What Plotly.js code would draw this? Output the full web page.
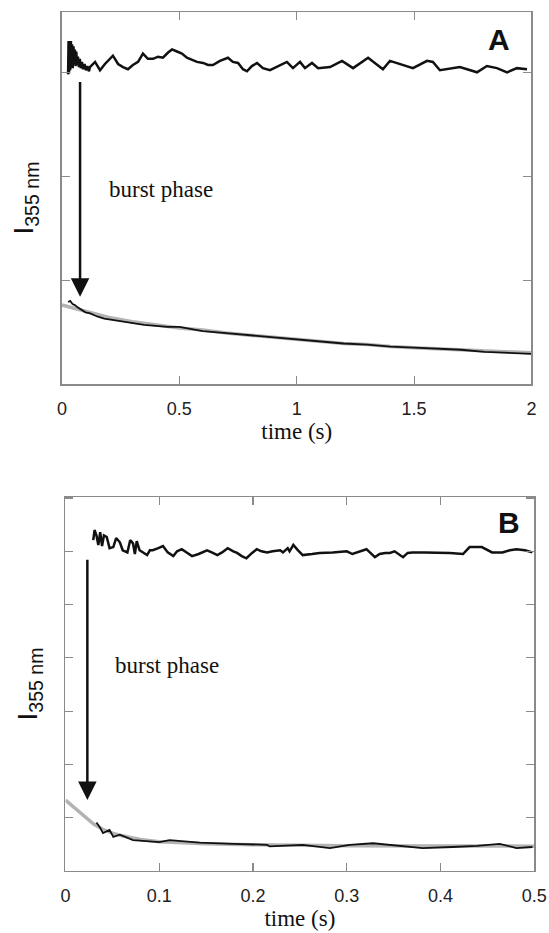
<!DOCTYPE html>
<html>
<head>
<meta charset="utf-8">
<script src="https://cdn.plot.ly/plotly-3.0.1.min.js"></script>
<style>html,body{margin:0;padding:0;background:#fff;}#chart{width:549px;height:933px;}</style>
</head>
<body>
<div id="chart"></div>
<script>
// ---- Panel A (0–2 s) ----
const aTopT = [0.026,0.028,0.030,0.033,0.035,0.038,0.040,0.043,0.046,0.049,0.052,0.055,0.058,0.061,0.064,0.068,0.072,0.076,0.080,0.085,0.090,0.096,0.102,0.108,0.115,
  0.119,0.141,0.162,0.183,0.217,0.239,0.260,0.281,0.302,0.324,0.345,0.366,0.388,0.409,0.430,0.452,0.469,0.490,0.511,0.532,0.554,0.575,0.601,0.622,0.643,0.673,0.707,0.728,0.750,0.771,0.788,0.809,0.831,0.856,0.886,0.920,0.958,0.984,1.014,1.035,1.065,1.091,1.142,1.193,1.240,1.304,1.367,1.397,1.453,1.495,1.555,1.580,1.610,1.695,1.768,1.810,1.853,1.896,1.938,1.981];
const aTopY = [2.98,3.30,2.99,3.28,3.02,3.30,3.05,3.27,3.04,3.25,3.08,3.22,3.06,3.20,3.07,3.15,3.05,3.13,3.04,3.10,3.03,3.08,3.02,3.06,3.01,
  3.05,3.10,3.02,3.08,3.16,3.08,3.05,3.03,3.07,3.10,3.18,3.13,3.13,3.15,3.14,3.19,3.22,3.20,3.18,3.14,3.12,3.10,3.09,3.07,3.07,3.11,3.14,3.10,3.09,3.03,3.01,3.06,3.09,3.04,3.02,3.06,3.10,3.04,3.10,3.04,3.09,3.04,3.05,3.11,3.04,3.14,3.03,3.11,3.07,3.04,3.11,3.10,3.02,3.05,3.00,3.06,3.04,3.00,3.04,3.03];
const aDataT = [0.026,0.035,0.045,0.055,0.065,0.08,0.1,0.12,0.15,0.18,0.21,0.25,0.3,0.35,0.4,0.45,0.5,0.55,0.6,0.7,0.8,0.9,1.0,1.1,1.2,1.3,1.4,1.5,1.6,1.7,1.8,1.9,2.0];
const aDataY = [0.79,0.80,0.77,0.76,0.74,0.72,0.69,0.68,0.65,0.63,0.62,0.60,0.59,0.57,0.56,0.55,0.55,0.53,0.51,0.49,0.47,0.45,0.43,0.41,0.39,0.38,0.36,0.35,0.34,0.33,0.31,0.30,0.29];
const aFitT = [0,0.1,0.2,0.3,0.4,0.5,0.6,0.7,0.8,0.9,1.0,1.1,1.2,1.3,1.4,1.5,1.6,1.7,1.8,1.9,2.0];
const aFitY = [0.76,0.70,0.64,0.60,0.57,0.54,0.52,0.49,0.47,0.45,0.43,0.41,0.39,0.38,0.36,0.35,0.34,0.33,0.32,0.31,0.30];

// ---- Panel B (0–0.5 s) ----
const bTopT = [0.0296,0.031,0.033,0.035,0.037,0.039,0.041,0.044,0.047,0.051,0.054,0.058,0.061,0.066,0.069,0.072,0.074,0.076,0.079,0.084,0.087,0.090,0.093,0.099,0.104,0.109,0.115,0.119,0.124,0.130,0.135,0.142,0.151,0.156,0.162,0.167,0.173,0.179,0.183,0.188,0.193,0.199,0.204,0.209,0.215,0.221,0.229,0.232,0.237,0.239,0.243,0.248,0.253,0.263,0.271,0.285,0.300,0.306,0.314,0.321,0.330,0.335,0.341,0.346,0.351,0.360,0.365,0.370,0.383,0.396,0.410,0.424,0.431,0.444,0.455,0.466,0.474,0.481,0.490,0.498];
const bTopY = [6.21,6.40,6.30,6.12,6.36,6.10,6.30,6.27,6.06,6.08,6.25,6.17,6.02,5.98,6.21,6.15,5.95,6.19,6.02,5.97,5.93,6.02,6.02,6.06,6.10,5.98,5.91,6.00,6.04,5.97,5.91,5.95,6.02,5.98,5.93,5.98,6.06,6.00,5.97,5.91,5.87,5.97,6.04,6.00,5.98,6.00,6.02,5.98,6.06,6.00,6.12,6.02,5.93,5.95,5.97,5.98,6.00,5.95,6.00,6.04,5.89,5.95,5.97,5.97,6.00,5.89,5.97,5.98,5.98,5.98,5.97,5.95,6.08,6.08,5.98,5.98,6.02,6.04,6.02,5.98];
const bDataT = [0.033,0.037,0.040,0.047,0.051,0.058,0.072,0.090,0.100,0.111,0.126,0.143,0.179,0.215,0.218,0.253,0.282,0.303,0.328,0.360,0.381,0.413,0.439,0.463,0.481,0.498];
const bDataY = [0.91,0.81,0.71,0.77,0.64,0.68,0.58,0.56,0.54,0.58,0.56,0.53,0.51,0.49,0.46,0.49,0.43,0.49,0.52,0.47,0.43,0.45,0.47,0.51,0.43,0.45];
const bFitT = [0,0.01,0.02,0.03,0.04,0.05,0.06,0.07,0.08,0.1,0.12,0.15,0.2,0.25,0.3,0.4,0.5];
const bFitY = [1.33,1.18,1.02,0.88,0.78,0.71,0.66,0.62,0.59,0.55,0.53,0.51,0.49,0.48,0.475,0.47,0.465];

const panelLabels = ['A','B'];
const burstText = 'burst phase';
const xTitle = 'time (s)';
const yTitle = 'I<sub>355 nm</sub>';

const black = '#111';
const grey = '#b3b3b3';
const axisCol = '#8a8a8a';

const traces = [
  {x:aTopT, y:aTopY, xaxis:'x', yaxis:'y', mode:'lines', line:{color:black, width:2.5}},
  {x:aFitT, y:aFitY, xaxis:'x', yaxis:'y', mode:'lines', line:{color:grey, width:3.5}},
  {x:aDataT, y:aDataY, xaxis:'x', yaxis:'y', mode:'lines', line:{color:black, width:1.8}},
  {x:bTopT, y:bTopY, xaxis:'x2', yaxis:'y2', mode:'lines', line:{color:black, width:2.5}},
  {x:bFitT, y:bFitY, xaxis:'x2', yaxis:'y2', mode:'lines', line:{color:grey, width:3.5}},
  {x:bDataT, y:bDataY, xaxis:'x2', yaxis:'y2', mode:'lines', line:{color:black, width:1.8}}
];

const axBase = {
  showgrid:false, zeroline:false, showline:true, linecolor:axisCol, linewidth:1.5,
  mirror:'ticks', ticks:'inside', ticklen:8, tickcolor:axisCol, tickwidth:1.2,
  automargin:false
};
const tickFont = {family:'Liberation Sans, Arial, sans-serif', size:18, color:'#222'};
const xTitleFont = {family:'Liberation Serif, Times New Roman, serif', size:23, color:'#111'};
const yTitleFont = {family:'Liberation Sans, Arial, sans-serif', size:28, color:'#111'};

const layout = {
  width:549, height:933,
  margin:{l:0, r:0, t:0, b:0},
  paper_bgcolor:'#fff', plot_bgcolor:'#fff',
  showlegend:false,
  xaxis:Object.assign({}, axBase, {domain:[0.1129,0.9681], range:[0,2], dtick:0.5, tick0:0,
    tickfont:tickFont, ticklabelstandoff:8, anchor:'y', title:{text:xTitle, font:xTitleFont, standoff:4}}),
  yaxis:Object.assign({}, axBase, {domain:[0.5884,0.9871], range:[0,3.58], dtick:1, tick0:0,
    showticklabels:false, anchor:'x', title:{text:yTitle, font:yTitleFont, standoff:18}}),
  xaxis2:Object.assign({}, axBase, {domain:[0.1193,0.9732], range:[0,0.5], dtick:0.1, tick0:0,
    tickfont:tickFont, ticklabelstandoff:8, anchor:'y2', title:{text:xTitle, font:xTitleFont, standoff:4}}),
  yaxis2:Object.assign({}, axBase, {domain:[0.0665,0.4673], range:[0,7.02], dtick:1, tick0:0,
    showticklabels:false, anchor:'x2', title:{text:yTitle, font:yTitleFont, standoff:18}}),
  annotations:[
    {xref:'x', yref:'y', x:0.077, y:0.84, ax:0.077, ay:2.92, axref:'x', ayref:'y',
      text:'', showarrow:true, arrowhead:2, arrowsize:1.48, arrowwidth:2.5, arrowcolor:black},
    {xref:'x2', yref:'y2', x:0.0233, y:1.33, ax:0.0233, ay:5.87, axref:'x2', ayref:'y2',
      text:'', showarrow:true, arrowhead:2, arrowsize:1.48, arrowwidth:2.5, arrowcolor:black},
    {xref:'x', yref:'y', x:0.19, y:1.87, xanchor:'left', yanchor:'middle', showarrow:false,
      text:burstText, font:{family:'Liberation Serif, Times New Roman, serif', size:23, color:'#111'}},
    {xref:'x2', yref:'y2', x:0.0506, y:3.86, xanchor:'left', yanchor:'middle', showarrow:false,
      text:burstText, font:{family:'Liberation Serif, Times New Roman, serif', size:23, color:'#111'}},
    {xref:'x', yref:'y', x:1.86, y:3.32, xanchor:'center', yanchor:'middle', showarrow:false,
      text:'<b>'+panelLabels[0]+'</b>', font:{family:'Liberation Sans, Arial, sans-serif', size:30, color:'#111'}},
    {xref:'x2', yref:'y2', x:0.473, y:6.55, xanchor:'center', yanchor:'middle', showarrow:false,
      text:'<b>'+panelLabels[1]+'</b>', font:{family:'Liberation Sans, Arial, sans-serif', size:30, color:'#111'}}
  ]
};

Plotly.newPlot('chart', traces, layout, {displayModeBar:false, staticPlot:true});
</script>
</body>
</html>
